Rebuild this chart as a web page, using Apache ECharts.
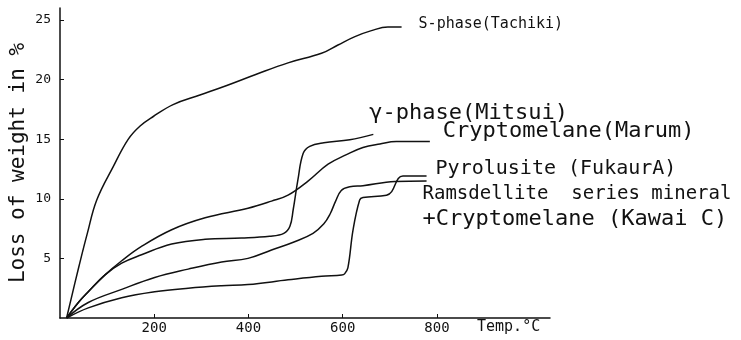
<!DOCTYPE html>
<html>
<head>
<meta charset="utf-8">
<script src="https://cdn.jsdelivr.net/npm/echarts@6/dist/echarts.min.js"></script>
<style>
  html, body { margin: 0; padding: 0; background: #fff; }
  #chart { width: 741px; height: 340px; }
</style>
</head>
<body>
<div id="chart"></div>
<script>
// [temperature °C, loss of weight %]
const sPhase = [[14,0],[23,1.5],[40,4.3],[58,7.1],[78,9.9],[113,12.7],[145,15.0],[170,16.1],[198,16.9],[240,17.9],[297,18.7],[354,19.5],[414,20.4],[484,21.4],[555,22.2],[590,22.9],[626,23.6],[661,24.1],[696,24.4],[725,24.4]];
const gammaPhase = [[14,0],[39,1.3],[60,2.2],[95,3.6],[131,4.6],[173,5.3],[237,6.2],[308,6.6],[385,6.7],[445,6.85],[475,7.1],[488,7.7],[495,9.1],[505,11.6],[516,13.8],[530,14.4],[560,14.7],[615,14.95],[665,15.4]];
const cryptomelane = [[14,0],[39,1.3],[60,2.2],[95,3.6],[131,4.8],[173,6.0],[237,7.4],[308,8.4],[399,9.2],[449,9.8],[484,10.3],[527,11.5],[569,12.9],[608,13.7],[643,14.3],[679,14.6],[714,14.8],[785,14.8]];
const pyrolusite = [[14,0],[60,0.85],[131,1.7],[201,2.2],[272,2.5],[343,2.7],[399,2.8],[484,3.2],[555,3.5],[598,3.6],[604,3.7],[611,4.2],[622,7.4],[636,9.9],[643,10.1],[693,10.3],[704,10.6],[718,11.7],[728,11.9],[778,11.9]];
const ramsdellite = [[14,0],[60,1.3],[131,2.4],[201,3.4],[272,4.1],[343,4.7],[399,5.0],[449,5.7],[498,6.4],[537,7.1],[560,7.9],[573,8.7],[585,9.8],[597,10.7],[615,11.0],[643,11.1],[711,11.45],[778,11.5]];

const xTicks = [200, 400, 600, 800];
const yTicks = [5, 10, 15, 20, 25];

const mono = '"DejaVu Sans Mono", monospace';
const ink = '#111';

const chart = echarts.init(document.getElementById('chart'));

// one line per sample, label sits at the end of the curve
function curve(name, data, label, offset) {
    return {
        type: 'line',
        name: name,
        data: data,
        smooth: 0.4,
        showSymbol: false,
        lineStyle: { color: ink, width: 1.5 },
        endLabel: Object.assign({
            show: true,
            fontFamily: mono,
            color: ink,
            offset: offset
        }, label)
    };
}

chart.setOption({
    animation: false,
    grid: { left: 60, right: 191, top: 8, bottom: 22, outerBoundsMode: 'none', containLabel: false },
    xAxis: {
        type: 'value',
        min: 0, max: 1040, interval: 200,
        axisLine: { lineStyle: { color: ink, width: 1.5 } },
        axisTick: { inside: true, length: 4, customValues: xTicks, lineStyle: { color: ink } },
        axisLabel: { customValues: xTicks, fontFamily: mono, fontSize: 14, color: ink, margin: 3 },
        splitLine: { show: false }
    },
    yAxis: {
        type: 'value',
        min: 0, max: 26, interval: 5,
        name: 'Loss of weight in %',
        nameLocation: 'middle',
        nameGap: 31,
        nameMoveOverlap: false,
        nameRotate: 90,
        nameTextStyle: { fontFamily: mono, fontSize: 21, color: ink },
        axisLine: { show: true, lineStyle: { color: ink, width: 1.5 } },
        axisTick: { show: true, inside: true, length: 4, customValues: yTicks, lineStyle: { color: ink } },
        axisLabel: { customValues: yTicks, fontFamily: mono, fontSize: 13, color: ink, margin: 9 },
        splitLine: { show: false }
    },
    graphic: [{
        type: 'text',
        left: 477, top: 320,
        style: { text: 'Temp.°C', font: '15px ' + mono, fill: ink }
    }],
    series: [
        curve('S-phase', sPhase, { formatter: 'S-phase(Tachiki)', fontSize: 15 }, [9, -3]),
        curve('γ-phase', gammaPhase, { formatter: 'γ-phase(Mitsui)', fontSize: 22 }, [-12, -21]),
        curve('Cryptomelane', cryptomelane, { formatter: 'Cryptomelane(Marum)', fontSize: 22 }, [5, -10]),
        curve('Pyrolusite', pyrolusite, { formatter: 'Pyrolusite (FukaurA)', fontSize: 20 }, [1, -7]),
        curve('Ramsdellite', ramsdellite, {
            formatter: '{a|Ramsdellite  series mineral}\n{b|+Cryptomelane (Kawai C)}',
            rich: {
                a: { fontFamily: mono, fontSize: 19, color: ink, lineHeight: 25 },
                b: { fontFamily: mono, fontSize: 22, color: ink, lineHeight: 25 }
            }
        }, [-12, 26])
    ]
});
</script>
</body>
</html>
